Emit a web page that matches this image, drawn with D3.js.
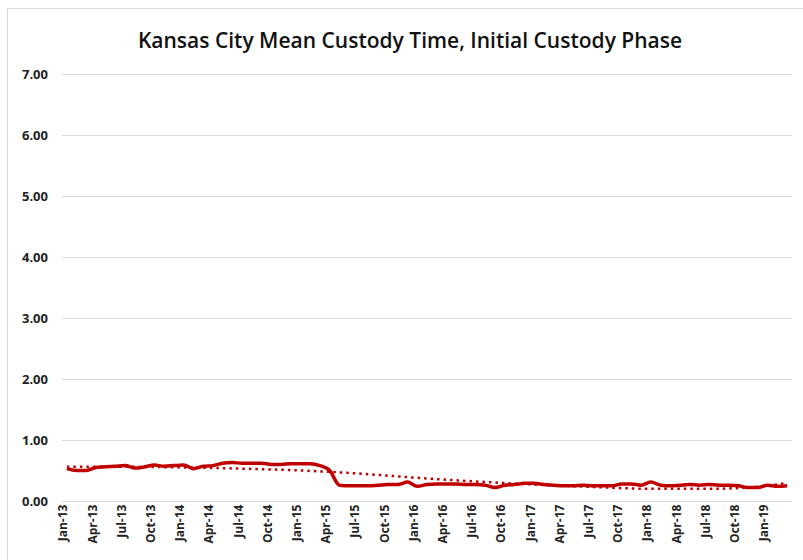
<!DOCTYPE html>
<html>
<head>
<meta charset="utf-8">
<script src="https://cdn.jsdelivr.net/npm/d3@7"></script>
<style>
  body { margin: 0; background: #fff; }
  svg { display: block; }
</style>
</head>
<body>
<div id="chart"></div>
<script>
const TITLE = "Kansas City Mean Custody Time, Initial Custody Phase";
const YEARS = ["13", "14", "15", "16", "17", "18", "19"];
const MONTHS = ["Jan", "Feb", "Mar", "Apr", "May", "Jun", "Jul", "Aug", "Sep", "Oct", "Nov", "Dec"];
const Y_TICKS = [0, 1, 2, 3, 4, 5, 6, 7];

// monthly mean custody time, Jan-13 .. Mar-19
const VALUES = [
   0.53, 0.50, 0.50, 0.55, 0.56, 0.57, 0.58, 0.54, 0.56, 0.59, 0.57, 0.58,
   0.59, 0.53, 0.57, 0.58, 0.62, 0.63, 0.62, 0.62, 0.62, 0.60, 0.60, 0.61,
   0.61, 0.61, 0.58, 0.50, 0.26, 0.25, 0.25, 0.25, 0.26, 0.27, 0.27, 0.31,
   0.24, 0.27, 0.28, 0.28, 0.28, 0.27, 0.27, 0.26, 0.22, 0.26, 0.27, 0.29,
   0.29, 0.27, 0.26, 0.25, 0.25, 0.26, 0.25, 0.25, 0.25, 0.28, 0.28, 0.26,
   0.31, 0.26, 0.25, 0.26, 0.27, 0.26, 0.27, 0.26, 0.26, 0.25, 0.22, 0.22,
   0.26, 0.24, 0.25
];

// dotted trend line, read at a few months
const TREND_MONTHS = ["Jan-13", "Jul-13", "Jan-14", "Jul-14", "Jan-15", "Jul-15", "Jan-16", "Jul-16", "Jan-17", "Jul-17", "Jan-18", "Jul-18", "Jan-19", "Mar-19"];
const TREND_VALUES = [0.56, 0.56, 0.55, 0.53, 0.50, 0.45, 0.38, 0.32, 0.27, 0.23, 0.20, 0.20, 0.25, 0.30];

const WIDTH = 803;
const HEIGHT = 560;
const LEFT = 62, RIGHT = 792, TOP = 74, BOTTOM = 501;
const RED = "#c00000";
const FONT = "'Open Sans', sans-serif";

const categories = [];
YEARS.forEach(y => MONTHS.forEach(m => categories.push(`${m}-${y}`)));
categories.length = VALUES.length;

const svg = d3.select("#chart")
   .append("svg")
   .attr("width", WIDTH)
   .attr("height", HEIGHT);

// chart border
svg.append("rect")
   .attr("x", 7.5).attr("y", 8.5)
   .attr("width", WIDTH).attr("height", HEIGHT)
   .attr("fill", "none")
   .attr("stroke", "#d9d9d9");

svg.append("text")
   .attr("x", 410)
   .attr("y", 48)
   .attr("text-anchor", "middle")
   .attr("font-family", FONT)
   .attr("font-size", "21px")
   .attr("font-weight", 600)
   .attr("fill", "#111")
   .text(TITLE);

const x = d3.scaleBand()
   .domain(categories)
   .range([LEFT, RIGHT]);

const y = d3.scaleLinear()
   .domain([0, 7])
   .range([BOTTOM, TOP]);

const yAxis = svg.append("g")
   .attr("transform", `translate(${LEFT},0)`)
   .call(d3.axisLeft(y)
      .tickValues(Y_TICKS)
      .tickFormat(d3.format(".2f"))
      .tickSize(-(RIGHT - LEFT))
      .tickPadding(14));
yAxis.select(".domain").remove();
yAxis.selectAll("line").attr("stroke", "#d9d9d9");
yAxis.selectAll("text")
   .attr("font-family", FONT)
   .attr("font-size", "13px")
   .attr("font-weight", 700)
   .attr("fill", "#222");

const xAxis = svg.append("g")
   .attr("transform", `translate(0,${BOTTOM})`)
   .call(d3.axisBottom(x)
      .tickValues(categories.filter((d, i) => i % 3 === 0))
      .tickSize(0)
      .tickPadding(6));
xAxis.select(".domain").remove();
xAxis.selectAll("text")
   .attr("font-family", FONT)
   .attr("font-size", "12px")
   .attr("font-weight", 700)
   .attr("fill", "#222")
   .attr("text-anchor", "end")
   .attr("dx", "-0.3em")
   .attr("dy", "-0.45em")
   .attr("transform", "rotate(-90)");

const cx = d => x(d) + x.bandwidth() / 2;

svg.append("path")
   .datum(TREND_VALUES)
   .attr("fill", "none")
   .attr("stroke", RED)
   .attr("stroke-width", 2.5)
   .attr("stroke-dasharray", "2.5,4")
   .attr("d", d3.line()
      .x((d, i) => cx(TREND_MONTHS[i]))
      .y(d => y(d))
      .curve(d3.curveMonotoneX));

svg.append("path")
   .datum(VALUES)
   .attr("fill", "none")
   .attr("stroke", RED)
   .attr("stroke-width", 3.5)
   .attr("stroke-linejoin", "round")
   .attr("d", d3.line()
      .x((d, i) => cx(categories[i]))
      .y(d => y(d))
      .curve(d3.curveMonotoneX));
</script>
</body>
</html>
